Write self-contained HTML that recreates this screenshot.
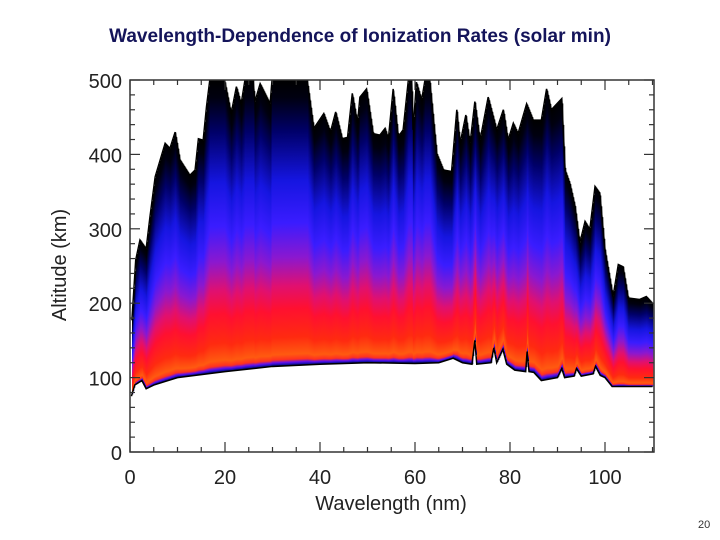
<!DOCTYPE html>
<html><head><meta charset="utf-8">
<style>
html,body{margin:0;padding:0;background:#fff;}
body{width:720px;height:540px;overflow:hidden;position:relative;font-family:"Liberation Sans",sans-serif;}
#title{position:absolute;left:0;width:720px;top:26px;text-align:center;font-weight:bold;font-size:19px;color:#14145a;z-index:2;}
#page{position:absolute;left:698px;top:519px;font-size:11px;color:#333;z-index:2;}
</style></head>
<body>
<div id="title">Wavelength-Dependence of Ionization Rates (solar min)</div>
<svg id="chart" width="720" height="540" style="position:absolute;left:0;top:0" xmlns="http://www.w3.org/2000/svg">
<defs>
<linearGradient id="colgrad" x1="0" y1="0" x2="0" y2="1">
<stop offset="0" stop-color="#000000"/>
<stop offset="0.06" stop-color="#000010"/>
<stop offset="0.18" stop-color="#00006a"/>
<stop offset="0.35" stop-color="#1515e0"/>
<stop offset="0.5" stop-color="#3a1cff"/>
<stop offset="0.62" stop-color="#8a18d0"/>
<stop offset="0.72" stop-color="#e01070"/>
<stop offset="0.8" stop-color="#ff1030"/>
<stop offset="0.9" stop-color="#ff2a10"/>
<stop offset="0.96" stop-color="#ff5a10"/>
<stop offset="0.978" stop-color="#ff3020"/>
<stop offset="0.988" stop-color="#6010f0"/>
<stop offset="0.996" stop-color="#1010a0"/>
<stop offset="1" stop-color="#000000"/>
</linearGradient>
<clipPath id="plotclip"><rect x="130" y="80" width="524" height="372"/></clipPath>
</defs>
<g id="cols" clip-path="url(#plotclip)"></g>
<g id="axes"></g>
</svg>
<div id="page">20</div>
<script>
// top envelope of ionization region (nm, km)
const topNm = [0,0.4,1.2,2.1,3.4,4.2,5.3,7.4,8.4,9.5,10.5,12.6,13.7,14.4,15.4,16.1,16.8,19.9,21.3,22.4,23.4,24.2,25.9,26.3,27.4,29.5,29.9,37.3,38.7,40.8,42.2,43.3,44.7,45.8,46.8,47.9,48.4,49.8,51.2,52.6,53.7,54.4,55.4,56.5,57.5,58.6,59.3,59.6,60.3,61.4,62.1,63.1,64.6,66.0,67.7,68.8,69.5,70.7,71.6,72.6,73.7,75.4,77.2,78.6,79.6,80.7,81.7,83.5,84.9,86.6,87.7,88.7,90.9,91.6,92.6,93.7,94.7,95.8,96.8,97.9,98.9,100.0,101.7,102.8,103.8,104.9,107.3,108.7,110];
const topKm = [120,177,258,285,273,316,370,415,408,430,393,372,379,421,419,464,500,500,455,491,468,500,500,471,495,468,500,500,435,455,430,457,421,423,482,442,477,488,428,426,435,421,488,424,433,500,500,433,497,473,500,500,401,379,377,460,415,453,415,471,419,477,433,460,419,442,428,468,446,446,488,460,475,379,361,330,281,310,299,357,348,272,209,252,249,207,205,209,200];
// bottom envelope
const botNm = [0,0.3,1,2.5,3.4,5,10,20,30,40,50,60,65,68,70,72,72.6,73,76,76.6,77.2,78.5,79.3,81,83.3,83.6,84,85,86.6,90,90.9,91.5,93.5,94,95,97.5,98,99,100,101.5,110];
const botKm = [80,75,90,96,85,90,100,108,115,118,120,119,120,126,120,118,150,118,120,140,120,138,118,110,108,135,108,107,96,100,112,100,102,112,102,105,115,103,100,88,88];
const xTicks = [0,20,40,60,80,100];
const yTicks = [0,100,200,300,400,500];

const X0=130,X1=652.5,Y0=452,Y1=80;
const xs = v => X0 + (v-0)/(110-0)*(X1-X0);
const ys = v => Y0 - (v-0)/(500-0)*(Y0-Y1);
function interp(xa,ya,x){
  if(x<=xa[0])return ya[0];
  for(let i=1;i<xa.length;i++){ if(x<=xa[i]){const t=(x-xa[i-1])/(xa[i]-xa[i-1]);return ya[i-1]+t*(ya[i]-ya[i-1]);} }
  return ya[ya.length-1];
}
const NS='http://www.w3.org/2000/svg';
const cols=document.getElementById('cols');
for(let px=Math.ceil(xs(0.3)); px<xs(110); px++){
  const nm=(px-X0)/(X1-X0)*110;
  const t=ys(interp(topNm,topKm,nm)), b=ys(interp(botNm,botKm,nm));
  const r=document.createElementNS(NS,'rect');
  
  
  r.setAttribute('x',px);r.setAttribute('width',1.3);
  r.setAttribute('y',t);r.setAttribute('height',Math.max(1,b-t));
  r.setAttribute('fill','url(#colgrad)');
  cols.appendChild(r);
}
let dt='',db='';
for(let i=0;i<topNm.length;i++){ if(topNm[i]<0.3)continue; dt+=(dt?'L':'M')+xs(topNm[i])+' '+ys(topKm[i]); }
for(let i=0;i<botNm.length;i++){ if(botNm[i]<0.3)continue; db+=(db?'L':'M')+xs(botNm[i])+' '+ys(botKm[i]); }
[dt,db].forEach((d,i)=>{
  const p=document.createElementNS(NS,'path');
  
  
  p.setAttribute('d',d);p.setAttribute('fill','none');p.setAttribute('stroke','#000');p.setAttribute('stroke-width',1.5);
  cols.appendChild(p);
});

const axes=document.getElementById('axes');
function line(x1,y1,x2,y2,name,w){
  const l=document.createElementNS(NS,'line');
  
  
  l.setAttribute('x1',x1);l.setAttribute('y1',y1);l.setAttribute('x2',x2);l.setAttribute('y2',y2);
  l.setAttribute('stroke','#333');l.setAttribute('stroke-width',w||1.2);
  axes.appendChild(l);
}
function text(x,y,s,name,anchor,extra){
  const t=document.createElementNS(NS,'text');
  
  
  t.setAttribute('x',x);t.setAttribute('y',y);t.setAttribute('text-anchor',anchor||'middle');
  t.setAttribute('font-size','20');t.setAttribute('fill','#222');t.setAttribute('font-family','Liberation Sans, sans-serif');
  if(extra)t.setAttribute('transform',extra);
  t.textContent=s;axes.appendChild(t);
}
const box=document.createElementNS(NS,'rect');


box.setAttribute('x',X0);box.setAttribute('y',Y1);box.setAttribute('width',X1-X0+1.5);box.setAttribute('height',Y0-Y1);
box.setAttribute('fill','none');box.setAttribute('stroke','#333');box.setAttribute('stroke-width',1.5);
axes.appendChild(box);
for(let v=0;v<=110;v+=5){
  const L=(v%20===0)?10:5;
  line(xs(v),Y0,xs(v),Y0-L,'x-tick');
  line(xs(v),Y1,xs(v),Y1+L,'x-tick-top');
}
for(let v=0;v<=500;v+=20){
  const L=(v%100===0)?10:5;
  line(X0,ys(v),X0+L,ys(v),'y-tick');
  line(X1+1.5,ys(v),X1+1.5-L,ys(v),'y-tick-right');
}
xTicks.forEach(v=>text(xs(v),484,String(v),'x-tick-label'));
yTicks.forEach(v=>text(122,ys(v)+8,String(v),'y-tick-label','end'));
text(391,510,'Wavelength (nm)','x-axis-title','middle');
text(66,265,'Altitude (km)','y-axis-title','middle','rotate(-90 66 265)');
</script>
</body></html>
